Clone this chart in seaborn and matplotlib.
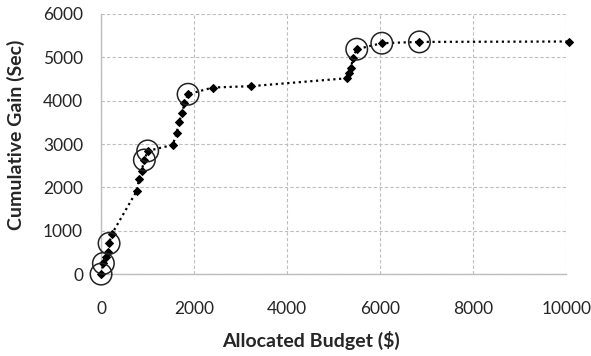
import matplotlib
matplotlib.use("Agg")
import matplotlib.pyplot as plt
import seaborn as sns
import pandas as pd

# Allocated budget ($) and cumulative gain (sec) for each allocation step
budget = [0, 50, 100, 143, 172, 235, 766, 817, 873, 931, 1002, 1540, 1626,
          1671, 1749, 1792, 1871, 2400, 3219, 5297, 5341, 5376, 5411, 5497,
          6036, 6845, 10054]
gain = [0, 247, 400, 515, 708, 930, 1917, 2187, 2386, 2632, 2840, 2979, 3248,
        3502, 3710, 3955, 4147, 4302, 4333, 4517, 4632, 4748, 4978, 5186,
        5324, 5354, 5363]
# Steps highlighted with a ring
highlighted = [0, 1, 4, 9, 10, 16, 23, 24, 25]

x_ticks = [0, 2000, 4000, 6000, 8000, 10000]
y_ticks = [0, 1000, 2000, 3000, 4000, 5000, 6000]

df = pd.DataFrame({"budget": budget, "gain": gain})
hl = df.iloc[highlighted]

sns.set_style("white")
plt.rcParams["font.family"] = ["Lato", "DejaVu Sans"]

fig = plt.figure(figsize=(5.91, 3.56), dpi=100)
ax = fig.add_axes([0.171, 0.230, 0.787, 0.731])

sns.lineplot(data=df, x="budget", y="gain", sort=False, ax=ax,
             color="black", linestyle=(0, (1, 1.6)), linewidth=1.6,
             marker="D", markersize=4.3, markeredgecolor="black",
             markerfacecolor="black", zorder=3, clip_on=False)
sns.scatterplot(data=hl, x="budget", y="gain", ax=ax, s=240,
                facecolor="none", edgecolor="#222222", linewidth=1.1,
                zorder=4, clip_on=False)

ax.set_xlim(0, 10000)
ax.set_ylim(0, 6000)
ax.set_xticks(x_ticks)
ax.set_yticks(y_ticks)
ax.tick_params(axis="both", labelsize=12.5, length=4, width=0.8,
               color="#c0c0c0", direction="out")
ax.tick_params(axis="x", pad=15)
ax.tick_params(axis="y", pad=9)

ax.grid(True, linestyle=(0, (3, 2)), color="#bdbdbd", linewidth=0.8)
ax.set_axisbelow(True)
for side in ["top", "right"]:
    ax.spines[side].set_visible(False)
for side in ["left", "bottom"]:
    ax.spines[side].set_color("#bdbdbd")
    ax.spines[side].set_linewidth(1.0)

ax.set_xlabel("Allocated Budget ($)", fontsize=14, fontweight="bold")
ax.set_ylabel("Cumulative Gain (Sec)", fontsize=14, fontweight="bold")
ax.xaxis.set_label_coords(0.4516, -0.218)
ax.yaxis.set_label_coords(-0.163, 0.535)

fig.savefig("out.png", dpi=100)
